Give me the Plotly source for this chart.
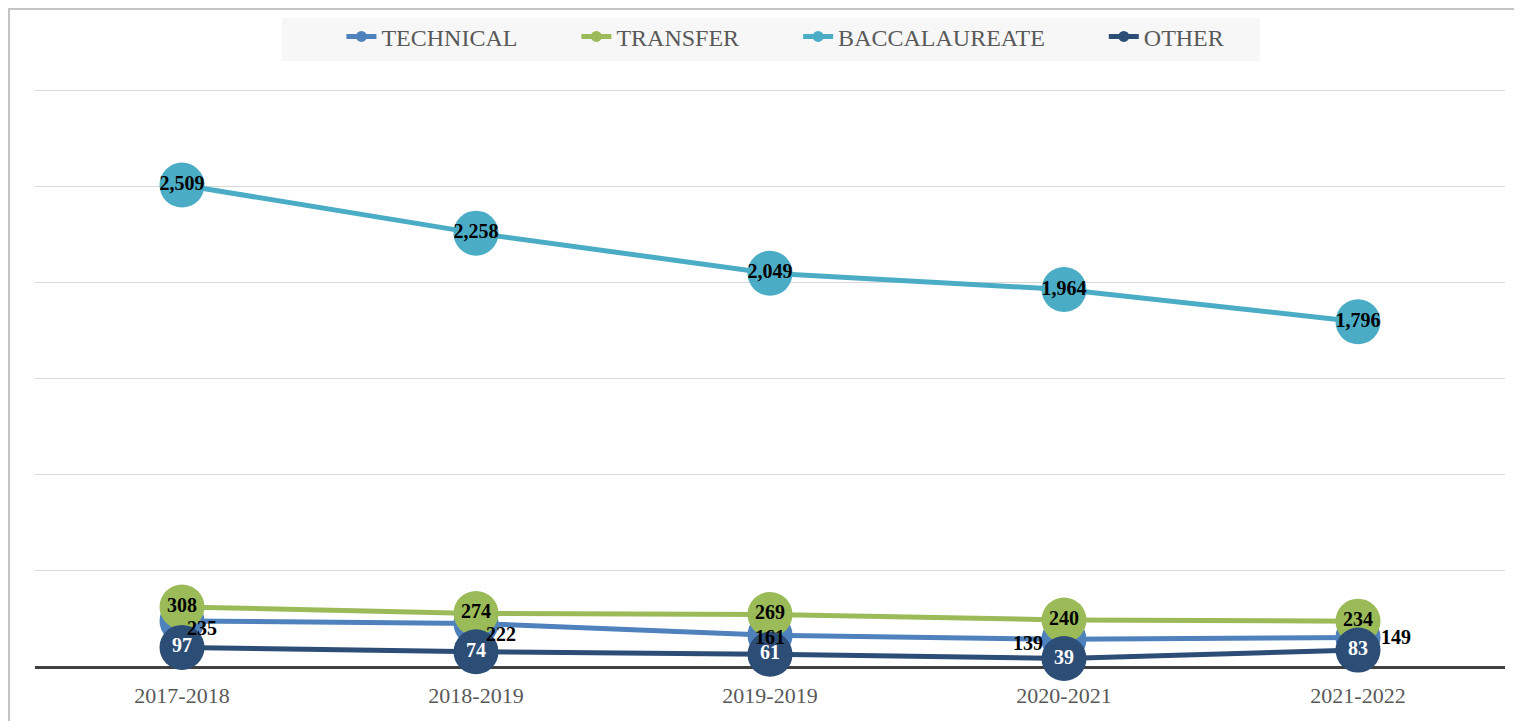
import plotly.graph_objects as go

years = ["2017-2018", "2018-2019", "2019-2019", "2020-2021", "2021-2022"]
technical = [235, 222, 161, 139, 149]
transfer = [308, 274, 269, 240, 234]
baccalaureate = [2509, 2258, 2049, 1964, 1796]
other = [97, 74, 61, 39, 83]

tech_label_dx = [20, 25, 0, -36, 38]
tech_label_dy = [-7, -11, -2, -4, 0]

colors = {
    "TECHNICAL": "#4F81BD",
    "TRANSFER": "#9BBB59",
    "BACCALAUREATE": "#4BACC6",
    "OTHER": "#2C4D75",
}

FONT = "Liberation Serif"
GAP = "\u00a0" * 9

fig = go.Figure()

series = [
    ("TECHNICAL", technical, None, "black"),
    ("TRANSFER", transfer, True, "black"),
    ("BACCALAUREATE", baccalaureate, True, "black"),
    ("OTHER", other, True, "white"),
]

for name, vals, show_text, tcol in series:
    fig.add_trace(go.Scatter(
        x=years, y=vals, mode="lines+markers+text" if show_text else "lines+markers",
        name=name, showlegend=False,
        line=dict(color=colors[name], width=5),
        marker=dict(size=45, color=colors[name]),
        text=[f"{v:,}" for v in vals] if show_text else None,
        textposition="middle center",
        textfont=dict(family=FONT, size=20, color=tcol, weight="bold"),
        cliponaxis=False,
    ))

# legend-only entries
for i, (name, vals, _, _) in enumerate(series):
    fig.add_trace(go.Scatter(
        x=[None], y=[None], mode="lines+markers",
        name=name + (GAP if i < len(series) - 1 else ""),
        line=dict(color=colors[name], width=5),
        marker=dict(size=11, color=colors[name]),
    ))

for x, v, dx, dy in zip(years, technical, tech_label_dx, tech_label_dy):
    fig.add_annotation(x=x, y=v, text=f"{v:,}", showarrow=False,
                       xshift=dx, yshift=dy,
                       font=dict(family=FONT, size=20, color="black", weight="bold"))

# legend background
fig.add_shape(type="rect", xref="paper", yref="paper",
              x0=0.168, x1=0.8333, y0=1.0485, y1=1.1230,
              fillcolor="#f7f7f7", line=dict(width=0), layer="below")
# outer border
fig.add_shape(type="rect", xref="paper", yref="paper",
              x0=-0.0177, x1=1.03, y0=-0.2, y1=1.1385,
              fillcolor="rgba(0,0,0,0)", line=dict(color="#c4c4c4", width=2))

fig.update_layout(
    width=1522, height=721,
    margin=dict(l=27, r=25, t=81, b=63, autoexpand=False),
    paper_bgcolor="white", plot_bgcolor="white",
    font=dict(family=FONT, color="#595959"),
    legend=dict(orientation="h", x=0.5105, xanchor="center", y=1.0905, yanchor="middle",
                bgcolor="rgba(0,0,0,0)", font=dict(family=FONT, size=24, color="#595959"),
                itemsizing="trace"),
    xaxis=dict(type="category", range=[-0.5, 4.5], showline=True, linecolor="#404040",
               linewidth=3, showgrid=False, ticks="outside", ticklen=8,
               tickcolor="rgba(0,0,0,0)", tickfont=dict(family=FONT, size=22, color="#595959"),
               layer="below traces", zeroline=False),
    yaxis=dict(range=[0, 3010], tick0=0, dtick=500, showticklabels=False, gridcolor="#d9d9d9",
               gridwidth=1, zeroline=False, showline=False, fixedrange=True),
)

fig.write_html("out.html")
